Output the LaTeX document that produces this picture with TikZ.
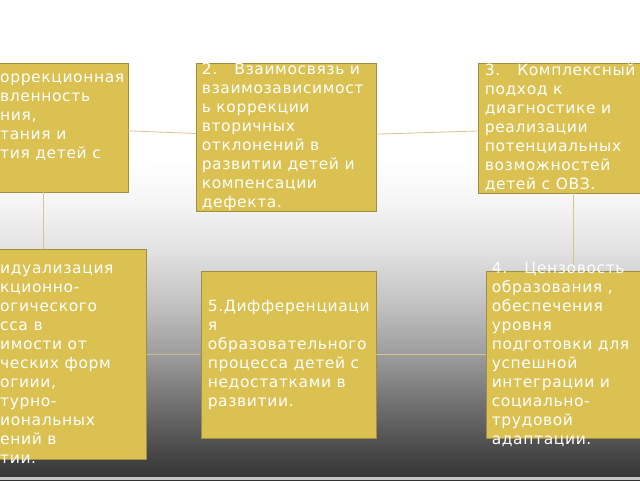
\documentclass[tikz,border=0pt]{standalone}
\usepackage{fontspec}
\newfontfamily\boxfont[LetterSpace=4]{DejaVu Sans}
\usetikzlibrary{positioning}

\definecolor{boxfill}{RGB}{218,193,82}
\definecolor{boxline}{RGB}{160,142,66}
\definecolor{linkcol}{RGB}{214,198,142}
\definecolor{bgA}{RGB}{50,50,50}
\definecolor{bgB}{RGB}{74,74,74}
\definecolor{bgC}{RGB}{116,116,116}
\definecolor{bgD}{RGB}{160,160,160}
\definecolor{bgE}{RGB}{196,196,196}
\definecolor{bgF}{RGB}{226,226,226}
\definecolor{bgG}{RGB}{246,246,246}
\pgfdeclareverticalshading{slidebg}{100bp}{color(0bp)=(bgA); color(25bp)=(bgA);
  color(28.1bp)=(bgB); color(33.3bp)=(bgC); color(38.5bp)=(bgD); color(43.75bp)=(bgE);
  color(49bp)=(bgF); color(54.2bp)=(bgG); color(58.3bp)=(white); color(100bp)=(white)}

\begin{document}
\begin{tikzpicture}[x=1pt, y=-1pt,
    box/.style={rectangle, draw=boxline, fill=boxfill, line width=0.8pt, inner sep=0pt},
    txt/.style={anchor=west, align=left, inner sep=0pt, text=white,
        font={\boxfont\fontsize{15.5pt}{19pt}\selectfont}},
    link/.style={draw=linkcol, line width=0.8pt}]
    \useasboundingbox (0, 0) rectangle (640, 480);
    \clip (0, 0) rectangle (640, 480);
    \shade[shading=slidebg] (0, 0) rectangle (640, 480);
    \fill[bgE] (0, 477) rectangle (640, 480);

    \node[box, minimum width=170pt, minimum height=129pt] at (43, 127.5)(b1){};
    \node[box, minimum width=180pt, minimum height=148pt] at (286, 137)(b2){};
    \node[box, minimum width=190pt, minimum height=130pt] at (573, 128)(b3){};
    \node[box, minimum width=174pt, minimum height=167pt] at (573, 354.5)(b4){};
    \node[box, minimum width=175pt, minimum height=167pt] at (288.5, 354.5)(b5){};
    \node[box, minimum width=206pt, minimum height=210pt] at (43, 354)(b6){};

    \path[link]
        (b1)edge(b2)
        (b2)edge(b3)
        (b1)edge(b6)
        (b3)edge(b4)
        (b6)edge(b5)
        (b5)edge(b4)
        ;

    \node[txt] at (0, 117)(t1){оррекционная\\вленность\\ния,\\тания и\\тия детей с};
    \node[txt] at ([xshift=6pt]b2.west)(t2){2.\hspace{1.1em}Взаимосвязь и\\взаимозависимост\\ь коррекции\\вторичных\\отклонений в\\развитии детей и\\компенсации\\дефекта.};
    \node[txt] at ([xshift=7pt]b3.west)(t3){3.\hspace{1.1em}Комплексный\\подход к\\диагностике и\\реализации\\потенциальных\\возможностей\\детей с ОВЗ.};
    \node[txt] at ([xshift=6pt]b4.west)(t4){4.\hspace{1.1em}Цензовость\\образования ,\\обеспечения\\уровня\\подготовки для\\успешной\\интеграции и\\социально-\\трудовой\\адаптации.};
    \node[txt] at ([xshift=7pt]b5.west)(t5){5.Дифференциаци\\я\\образовательного\\процесса детей с\\недостатками в\\развитии.};
    \node[txt] at (0, 364)(t6){идуализация\\кционно-\\огического\\сса в\\имости от\\ческих форм\\огиии,\\турно-\\иональных\\ений в\\тии.};
\end{tikzpicture}
\end{document}
